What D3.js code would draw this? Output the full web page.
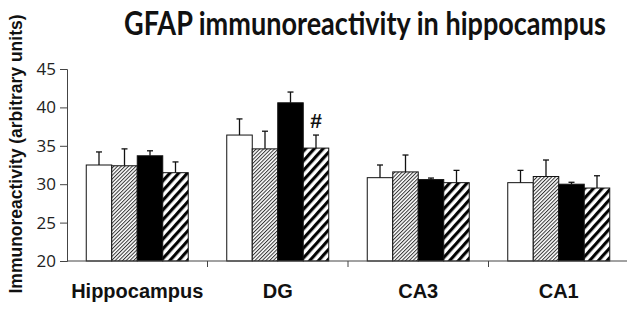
<!DOCTYPE html>
<html><head><meta charset="utf-8">
<script src="https://cdn.jsdelivr.net/npm/d3@7/dist/d3.min.js"></script>
<style>body{margin:0;background:#fff;} svg{display:block;}</style>
</head><body>
<svg id="c" width="627" height="312"></svg>
<script>
const regions = ["Hippocampus", "DG", "CA3", "CA1"];
const seriesNames = ["Group 1", "Group 2", "Group 3", "Group 4"];
const meanG1 = [32.5, 36.4, 30.85, 30.2];
const meanG2 = [32.4, 34.6, 31.6, 31.0];
const meanG3 = [33.7, 40.6, 30.6, 30.0];
const meanG4 = [31.5, 34.7, 30.2, 29.5];
const errG1 = [1.7, 2.1, 1.65, 1.6];
const errG2 = [2.2, 2.3, 2.2, 2.15];
const errG3 = [0.65, 1.4, 0.2, 0.25];
const errG4 = [1.4, 1.7, 1.6, 1.6];
const yTicks = [20, 25, 30, 35, 40, 45];
const title = "GFAP immunoreactivity in hippocampus";
const yLabel = "Immunoreactivity (arbitrary units)";
const marks = [{region: "DG", series: "Group 4", text: "#"}];

const means = [meanG1, meanG2, meanG3, meanG4];
const errs = [errG1, errG2, errG3, errG4];
const data = [];
regions.forEach((r, i) => seriesNames.forEach((s, j) => data.push({region: r, series: s, v: means[j][i], e: errs[j][i], k: j})));

const svg = d3.select("#c");
const defs = svg.append("defs");
const p1 = defs.append("pattern").attr("id", "h1").attr("patternUnits", "userSpaceOnUse")
  .attr("width", 2.6).attr("height", 2.6).attr("patternTransform", "rotate(45)");
p1.append("rect").attr("width", 2.6).attr("height", 2.6).attr("fill", "#fff");
p1.append("line").attr("x1", 0.5).attr("y1", 0).attr("x2", 0.5).attr("y2", 2.6).attr("stroke", "#333").attr("stroke-width", 1);
const p2 = defs.append("pattern").attr("id", "h2").attr("patternUnits", "userSpaceOnUse")
  .attr("width", 6.5).attr("height", 6.5).attr("patternTransform", "rotate(42)");
p2.append("rect").attr("width", 6.5).attr("height", 6.5).attr("fill", "#fff");
p2.append("line").attr("x1", 1.6).attr("y1", 0).attr("x2", 1.6).attr("y2", 6.5).attr("stroke", "#000").attr("stroke-width", 3.1);

const fills = ["#fff", "url(#h1)", "#000", "url(#h2)"];

const x0 = d3.scaleBand().domain(regions).range([67, 629]).paddingInner(0).paddingOuter(0);
const x1 = d3.scaleBand().domain(seriesNames).range([0, x0.bandwidth()]).paddingInner(0).paddingOuter(0.755);
const y = d3.scaleLinear().domain([20, 45]).range([261, 69]);

// bars
const g = svg.append("g");
g.selectAll("rect.bar").data(data).join("rect").attr("class", "bar")
  .attr("x", d => x0(d.region) + x1(d.series))
  .attr("y", d => y(d.v))
  .attr("width", x1.bandwidth())
  .attr("height", d => y(20) - y(d.v))
  .attr("fill", d => fills[d.k])
  .attr("stroke", "#111").attr("stroke-width", 1);

// error bars
const eb = g.selectAll("g.err").data(data).join("g").attr("class", "err")
  .attr("stroke", "#111").attr("stroke-width", 1.3);
eb.append("line")
  .attr("x1", d => x0(d.region) + x1(d.series) + x1.bandwidth() / 2)
  .attr("x2", d => x0(d.region) + x1(d.series) + x1.bandwidth() / 2)
  .attr("y1", d => y(d.v)).attr("y2", d => y(d.v + d.e));
eb.append("line")
  .attr("x1", d => x0(d.region) + x1(d.series) + x1.bandwidth() / 2 - 3)
  .attr("x2", d => x0(d.region) + x1(d.series) + x1.bandwidth() / 2 + 3)
  .attr("y1", d => y(d.v + d.e)).attr("y2", d => y(d.v + d.e));

// significance marks
marks.forEach(m => {
  const d = data.find(q => q.region === m.region && q.series === m.series);
  svg.append("text").attr("x", x0(m.region) + x1(m.series) + x1.bandwidth() / 2)
    .attr("y", y(d.v + d.e) - 7).attr("text-anchor", "middle")
    .attr("font-family", "Liberation Sans, Arial, sans-serif").attr("font-weight", "bold")
    .attr("font-size", 21).attr("fill", "#111").text(m.text);
});

// y axis
const yAxis = d3.axisLeft(y).tickValues(yTicks).tickSize(7).tickPadding(4);
const ya = svg.append("g").attr("transform", "translate(67,0)").call(yAxis);
ya.select(".domain").attr("stroke", "#444");
ya.selectAll(".tick line").attr("stroke", "#444");
ya.selectAll(".tick text").attr("font-family", "Open Sans, sans-serif").attr("font-size", 17).attr("fill", "#222");

// x axis line + boundary ticks
const xa = svg.append("g");
xa.append("line").attr("x1", 67).attr("x2", 627).attr("y1", y(20)).attr("y2", y(20)).attr("stroke", "#444").attr("stroke-width", 1);
xa.selectAll("line.t").data(regions.slice(1)).join("line").attr("class", "t")
  .attr("x1", d => x0(d)).attr("x2", d => x0(d))
  .attr("y1", y(20)).attr("y2", y(20) + 6).attr("stroke", "#444");
xa.selectAll("text").data(regions).join("text")
  .attr("x", d => x0(d) + x0.bandwidth() / 2).attr("y", 298)
  .attr("text-anchor", "middle").attr("font-family", "Liberation Sans, Arial, sans-serif")
  .attr("font-weight", "bold").attr("font-size", 20).attr("fill", "#111").text(d => d);

// y label
svg.append("text").attr("transform", "translate(22,154) rotate(-90)")
  .attr("text-anchor", "middle").attr("font-family", "Liberation Sans, Arial, sans-serif")
  .attr("font-weight", "bold").attr("font-size", 17.5).attr("fill", "#111").text(yLabel);

// title (horizontally condensed to mimic a narrow bold face)
const tt = svg.append("text").attr("x", 0).attr("y", 0).attr("text-anchor", "start")
  .attr("font-family", "Lato, sans-serif").attr("font-weight", "bold")
  .attr("font-size", 32).attr("fill", "#111").text(title);
const tw = tt.node().getComputedTextLength();
tt.attr("transform", `translate(124,35) scale(${482 / tw},1)`);
</script>
</body></html>
